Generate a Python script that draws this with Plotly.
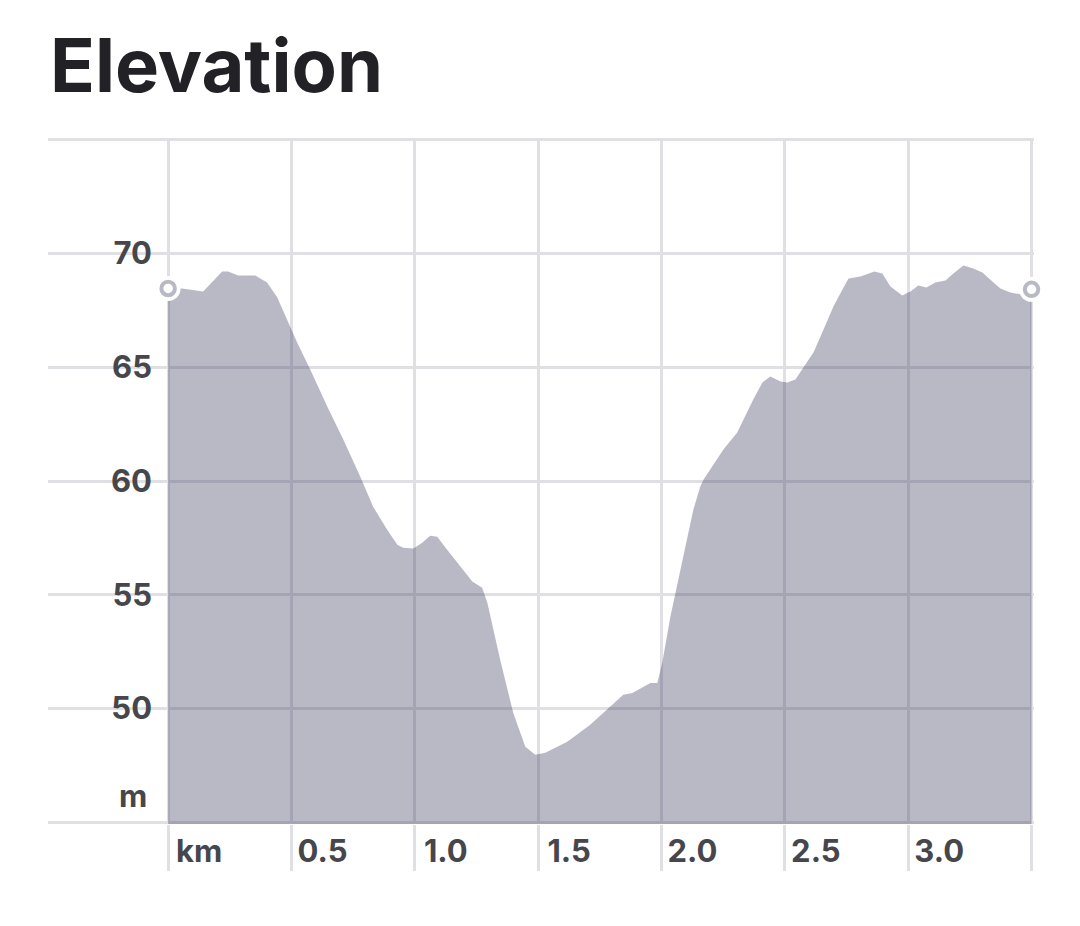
import plotly.graph_objects as go

# Elevation profile (distance in km, elevation in m)
distance_km = [0.000, 0.057, 0.142, 0.219, 0.243, 0.284, 0.353, 0.401, 0.442, 0.495,
               0.523, 0.576, 0.645, 0.710, 0.779, 0.831, 0.888, 0.929, 0.953, 0.994,
               1.030, 1.062, 1.091, 1.131, 1.184, 1.233, 1.273, 1.294, 1.346, 1.399,
               1.448, 1.488, 1.529, 1.618, 1.711, 1.792, 1.845, 1.882, 1.955, 1.983,
               2.003, 2.036, 2.088, 2.129, 2.157, 2.170, 2.251, 2.307, 2.372, 2.409,
               2.441, 2.482, 2.510, 2.543, 2.575, 2.616, 2.652, 2.697, 2.734, 2.758,
               2.806, 2.863, 2.895, 2.928, 2.976, 3.009, 3.041, 3.074, 3.110, 3.151,
               3.183, 3.224, 3.264, 3.301, 3.341, 3.374, 3.414, 3.455, 3.500]
elevation_m = [68.46, 68.46, 68.33, 69.21, 69.21, 69.03, 69.03, 68.72, 68.07, 66.75,
               66.09, 64.90, 63.27, 61.82, 60.19, 58.87, 57.86, 57.20, 57.07, 57.03,
               57.29, 57.60, 57.55, 56.98, 56.24, 55.58, 55.31, 54.65, 52.15, 49.81,
               48.32, 47.97, 48.06, 48.54, 49.29, 50.08, 50.61, 50.69, 51.13, 51.13,
               52.01, 54.04, 56.68, 58.74, 59.75, 60.06, 61.38, 62.13, 63.58, 64.33,
               64.59, 64.37, 64.33, 64.46, 64.99, 65.65, 66.53, 67.67, 68.42, 68.90,
               68.99, 69.21, 69.12, 68.55, 68.15, 68.33, 68.59, 68.50, 68.72, 68.81,
               69.12, 69.47, 69.34, 69.16, 68.77, 68.46, 68.28, 68.20, 68.42]

x_tick_vals = [0, 0.5, 1.0, 1.5, 2.0, 2.5, 3.0, 3.5]
x_tick_text = ["km", "0.5", "1.0", "1.5", "2.0", "2.5", "3.0", ""]
y_grid_vals = [45, 50, 55, 60, 65, 70, 75]
y_tick_text = ["", "50", "55", "60", "65", "70", ""]
y_unit_label = "m"
y_unit_pos = 46.2

GRID = "#dfdfe4"
LABEL = "#46464b"
FILL = "rgba(55,55,92,0.35)"
MARK = "#b9b9c6"
FONT = "Inter, Roboto, sans-serif"

fig = go.Figure()
fig.add_trace(go.Scatter(
    x=distance_km, y=elevation_m, mode="lines", fill="tozeroy",
    fillcolor=FILL, line=dict(width=0, color=FILL), hoverinfo="skip",
    showlegend=False))

ends_x = [distance_km[0], distance_km[-1]]
ends_y = [elevation_m[0], elevation_m[-1]]
fig.add_trace(go.Scatter(
    x=ends_x, y=ends_y, mode="markers", cliponaxis=False,
    marker=dict(size=25, color="white", line=dict(width=0)),
    hoverinfo="skip", showlegend=False))
fig.add_trace(go.Scatter(
    x=ends_x, y=ends_y, mode="markers", cliponaxis=False,
    marker=dict(size=13.5, color="white", line=dict(width=4, color=MARK)),
    hoverinfo="skip", showlegend=False))

fig.add_annotation(
    x=0, y=y_unit_pos, xref="x", yref="y", text=y_unit_label, showarrow=False,
    xanchor="right", yanchor="middle", xshift=-19,
    font=dict(family=FONT, size=31, color=LABEL, weight=700))

fig.update_layout(
    width=1080, height=926,
    paper_bgcolor="white", plot_bgcolor="white",
    margin=dict(l=48, r=46, t=138, b=102),
    title=dict(text="Elevation", x=50 / 1080, xanchor="left", xref="container",
               y=1 - 66.5 / 926, yanchor="middle", yref="container",
               font=dict(family=FONT, size=74, color="#222226", weight=700)),
    xaxis=dict(range=[-0.487, 3.51], tickvals=x_tick_vals, ticktext=x_tick_text,
               showgrid=True, gridcolor=GRID, gridwidth=2.5, zeroline=False,
               showline=False, ticks="outside", ticklen=46, tickwidth=2.5,
               tickcolor=GRID, ticklabelshift=31, ticklabelstandoff=-46,
               tickfont=dict(family=FONT, size=31, color=LABEL, weight=700)),
    yaxis=dict(range=[44.93, 75.07], tickvals=y_grid_vals, ticktext=y_tick_text,
               showgrid=True, gridcolor=GRID, gridwidth=2.5, zeroline=False,
               showline=False, ticks="", anchor="free", position=120 / 985.7,
               ticklabelstandoff=16,
               tickfont=dict(family=FONT, size=31, color=LABEL, weight=700)),
)

fig.write_html("out.html")
